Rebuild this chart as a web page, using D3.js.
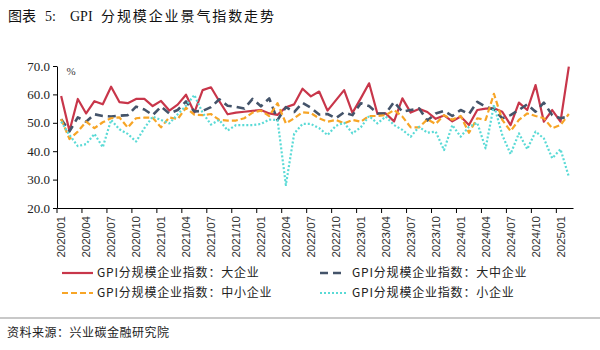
<!DOCTYPE html>
<html><head><meta charset="utf-8">
<script src="https://cdn.jsdelivr.net/npm/d3@7/dist/d3.min.js"></script>
<style>
html,body{margin:0;padding:0;background:#fff;}
svg{display:block;}
</style>
</head><body>
<svg id="chart" width="600" height="350"></svg>
<script>
// ---------- data ----------
const months = [];
for (let yr = 2020; yr <= 2025; yr++) {
  for (let m = 1; m <= 12; m++) {
    if (yr === 2025 && m > 2) break;
    months.push(yr + "/" + String(m).padStart(2, "0"));
  }
}
const tickLabels = ["2020/01","2020/04","2020/07","2020/10","2021/01","2021/04","2021/07","2021/10",
  "2022/01","2022/04","2022/07","2022/10","2023/01","2023/04","2023/07","2023/10",
  "2024/01","2024/04","2024/07","2024/10","2025/01"];
const yTicks = [20, 30, 40, 50, 60, 70];

const large = [59.4,47.1,58.4,53.3,57.6,56.5,62.7,57.3,56.9,58.4,58.4,55.9,57.7,54.3,56.4,59.9,
  53.6,61.5,62.5,57.6,53.0,53.6,53.9,54.2,54.5,53.3,52.8,55.5,56.5,62.0,59.3,61.0,
  54.3,57.9,61.5,53.5,58.6,63.9,53.2,53.3,50.5,58.6,53.6,54.9,53.8,51.4,52.6,50.5,
  52.2,49.2,54.5,55.0,55.1,53.9,49.2,57.1,54.5,63.3,50.4,54.5,50.4,69.8];
const largeMedium = [51.3,47.0,51.9,50.4,53.0,52.4,52.2,52.5,52.7,55.7,54.7,52.7,55.7,53.3,54.5,57.5,
  54.0,54.2,55.5,58.3,56.0,55.6,55.0,58.4,55.8,58.6,51.0,55.5,53.8,57.0,55.3,52.9,
  53.1,51.6,53.7,52.7,56.9,55.9,53.3,53.3,57.4,53.9,54.5,55.1,50.8,53.3,54.2,52.4,
  54.5,53.1,57.4,55.7,54.7,51.6,52.7,54.5,56.5,53.9,57.1,52.7,51.6,52.2];
const smallMedium = [51.3,44.3,46.9,50.4,48.1,50.2,51.6,51.9,48.3,51.6,51.8,51.8,48.4,51.9,51.3,55.3,
  52.9,52.7,53.1,51.0,50.8,50.8,51.6,53.6,54.3,52.4,56.9,49.8,51.6,53.7,53.4,51.6,
  50.4,51.0,49.8,51.0,50.4,52.4,52.4,52.7,54.5,52.2,48.4,48.4,51.2,49.6,52.7,51.1,
  52.4,46.5,51.6,51.0,60.2,51.0,47.1,51.0,53.3,52.4,51.6,48.1,49.2,53.1];
const small = [50.4,45.7,41.8,42.5,46.1,41.4,51.0,47.7,46.1,43.4,48.1,52.2,51.0,49.8,53.0,56.0,
  59.8,53.5,49.4,51.0,47.3,49.2,49.2,49.2,49.6,51.1,51.0,28.1,46.2,49.6,49.6,48.1,
  45.7,48.9,50.0,46.3,48.4,52.4,49.8,52.2,49.2,47.5,45.1,48.6,46.5,46.9,40.4,49.2,
  45.1,48.6,50.0,41.0,56.3,45.7,39.0,46.3,40.7,46.9,44.5,37.5,40.7,31.0];

const seriesNames = ["GPI分规模企业指数：大企业","GPI分规模企业指数：大中企业",
  "GPI分规模企业指数：中小企业","GPI分规模企业指数：小企业"];
const seriesValues = [large, largeMedium, smallMedium, small];
const seriesColors = ["#C8364A","#44546A","#F7A526","#5ADAD6"];
const seriesDash = [null, "8,5", "6,3", "2,2"];
const seriesWidth = [2.2, 2.6, 2.2, 2.2];

// ---------- drawing ----------
const svg = d3.select("#chart");
const plotL = 57, plotR = 573, plotT = 66, plotB = 208;

svg.append("text").attr("x", 8).attr("y", 21)
  .style("font-family", "'Liberation Serif','Noto Sans CJK SC',serif")
  .style("font-size", "14px").attr("fill", "#111")
  .call(t => {
    t.append("tspan").text("图表");
    t.append("tspan").attr("x", 45).text("5:");
    t.append("tspan").attr("x", 70).text("GPI");
    t.append("tspan").attr("x", 101).style("letter-spacing", "1.9px").text("分规模企业景气指数走势");
  });

const x = d3.scaleBand().domain(months).range([plotL, plotR]).padding(0);
const bw = x.bandwidth();
const y = d3.scaleLinear().domain([20, 70]).range([plotB, plotT]);

// y axis
const yAxis = svg.append("g").attr("transform", `translate(${plotL},0)`)
  .call(d3.axisLeft(y).tickValues(yTicks).tickFormat(d3.format(".1f")).tickSize(4).tickSizeOuter(0).tickPadding(3));
yAxis.select(".domain").attr("stroke", "#000");
yAxis.selectAll(".tick line").attr("stroke", "#000");
yAxis.selectAll("text").style("font-family", "'Liberation Serif',serif").style("font-size", "13px").attr("fill", "#222");

svg.append("text").attr("x", 71).attr("y", 75).attr("text-anchor", "middle")
  .style("font-family", "'Liberation Serif',serif").style("font-size", "11px").attr("fill", "#333").text("%");

// x axis
const xAxis = svg.append("g").attr("transform", `translate(0,${plotB})`)
  .call(d3.axisBottom(x).tickValues(tickLabels).tickSize(5).tickSizeOuter(0));
xAxis.select(".domain").attr("stroke", "#000");
xAxis.selectAll(".tick line").attr("stroke", "#000").attr("x1", -bw / 2).attr("x2", -bw / 2);
xAxis.selectAll(".tick text")
  .attr("transform", "rotate(-90)")
  .attr("x", -8).attr("y", 0).attr("dy", "0.35em")
  .attr("text-anchor", "end")
  .style("font-family", "'Liberation Sans',Arial,sans-serif").style("font-size", "11.5px").attr("fill", "#333");

// lines
const line = d3.line().x((d, i) => x(months[i]) + bw / 2).y(d => y(d));
seriesValues.forEach((vals, k) => {
  const p = svg.append("path").datum(vals)
    .attr("fill", "none").attr("stroke", seriesColors[k])
    .attr("stroke-width", seriesWidth[k]).attr("stroke-linejoin", "round")
    .attr("d", line);
  if (seriesDash[k]) p.attr("stroke-dasharray", seriesDash[k]);
});

// legend
const legPos = [[62, 273, 93], [320, 273, 345], [62, 293, 93], [320, 293, 347]];
seriesNames.forEach((name, k) => {
  const [lx, ly, lx2] = legPos[k];
  const l = svg.append("line").attr("x1", lx).attr("x2", lx2).attr("y1", ly).attr("y2", ly)
    .attr("stroke", seriesColors[k]).attr("stroke-width", seriesWidth[k]);
  if (seriesDash[k]) l.attr("stroke-dasharray", seriesDash[k]);
  svg.append("text").attr("x", k % 2 === 0 ? 97 : 352).attr("y", ly).attr("dy", "0.35em")
    .style("font-family", "'Noto Sans CJK SC',sans-serif").style("font-size", "12px")
    .style("letter-spacing", "0.8px")
    .attr("fill", "#222").text(name);
});

// bottom rule and source
svg.append("rect").attr("x", 0).attr("y", 317).attr("width", 600).attr("height", 2).attr("fill", "#c8c8c8");
svg.append("text").attr("x", 7).attr("y", 333).attr("dy", "0.35em")
  .style("font-family", "'Noto Sans CJK SC',serif").style("font-size", "12px")
  .style("letter-spacing", "0.5px").attr("fill", "#222").text("资料来源：兴业碳金融研究院");
</script>
</body></html>
